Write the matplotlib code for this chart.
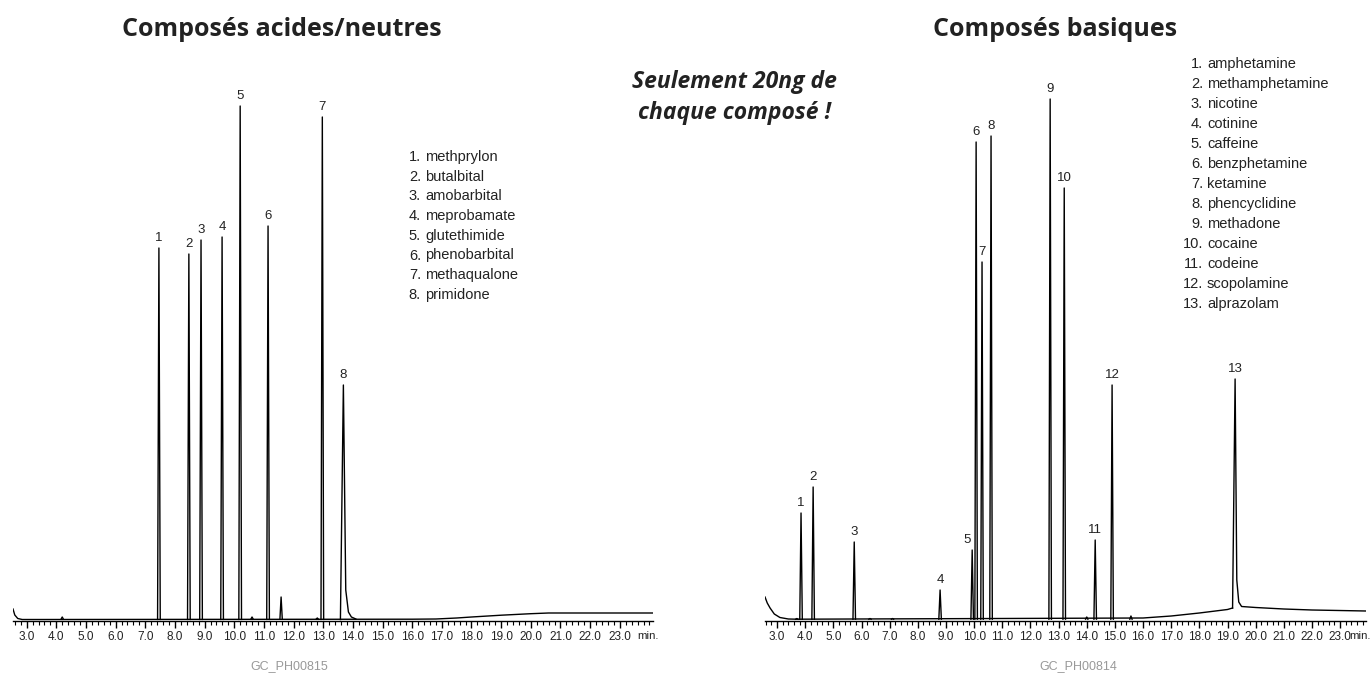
import matplotlib
matplotlib.use("Agg")
import matplotlib.pyplot as plt
from matplotlib.ticker import MultipleLocator, FixedLocator, FixedFormatter

W, H = 1372, 677
NARROW = ['Liberation Sans', 'DejaVu Sans']
BOLD = ['Open Sans', 'DejaVu Sans']

# ---- acid/neutral chromatogram (left) ----
acid_names = ['methprylon', 'butalbital', 'amobarbital', 'meprobamate',
              'glutethimide', 'phenobarbital', 'methaqualone', 'primidone']
acid_rt = [7.46, 8.47, 8.88, 9.59, 10.20, 11.14, 12.97, 13.68]
acid_height = [372, 366, 380, 383, 514, 394, 503, 235]
# small unlabelled peaks
acid_minor_rt = [4.2, 10.6, 11.58, 12.8]
acid_minor_h = [3, 3, 23, 2]
# baseline (time, signal)
acid_base_t = [2.54, 2.60, 2.70, 2.85, 3.5, 16.0, 16.8, 17.5, 18.0, 19.0, 20.0, 20.6, 24.12]
acid_base_y = [11, 5, 1.5, 0.5, 0.5, 0.8, 1.0, 2.0, 3.0, 4.8, 6.3, 7.0, 7.0]
# tailing peak 8 (time, signal)
acid_tail_t = [13.58, 13.68, 13.76, 13.85, 13.95, 14.1]
acid_tail_y = [0.5, 235, 30, 8, 3, 1]

# ---- basic chromatogram (right) ----
base_names = ['amphetamine', 'methamphetamine', 'nicotine', 'cotinine', 'caffeine',
              'benzphetamine', 'ketamine', 'phencyclidine', 'methadone', 'cocaine',
              'codeine', 'scopolamine', 'alprazolam']
base_rt = [3.85, 4.28, 5.74, 8.79, 9.93, 10.07, 10.28, 10.60, 12.70, 13.20, 14.30, 14.90, 19.27]
base_height = [107, 133, 78, 30, 70, 478, 358, 484, 521, 432, 80, 235, 241]
base_minor_rt = [3.7, 6.3, 7.1, 14.0, 15.57]
base_minor_h = [1.5, 1.5, 1.5, 3, 4]
base_base_t = [2.57, 2.65, 2.75, 2.90, 3.10, 3.40, 3.70, 16.0, 17.0, 18.0, 19.0, 19.18]
base_base_y = [23, 17, 12, 6, 2.5, 1.0, 0.8, 2.0, 4.0, 7.0, 10.5, 12.0]
base_tail_t = [19.18, 19.27, 19.33, 19.40, 19.50, 20.0, 21.0, 22.0, 23.92]
base_tail_y = [12, 241, 40, 18, 13.5, 12.5, 11.0, 10.0, 9.0]

fig = plt.figure(figsize=(W / 100, H / 100), dpi=100)


def setup(ax, xlim, min_x, min_ha):
    ax.set_xlim(*xlim)
    ax.set_ylim(-1, 540)
    for s in ['top', 'left', 'right']:
        ax.spines[s].set_visible(False)
    ax.spines['bottom'].set_linewidth(1.0)
    ax.set_yticks([])
    majors = [float(v) for v in range(3, 24)]
    ax.xaxis.set_major_locator(FixedLocator(majors))
    ax.xaxis.set_major_formatter(FixedFormatter(['%.1f' % v for v in majors]))
    ax.xaxis.set_minor_locator(MultipleLocator(0.2))
    ax.tick_params(axis='x', which='major', direction='out', length=5, width=1.0,
                   pad=2, labelsize=8.5, labelcolor='#222222')
    ax.tick_params(axis='x', which='minor', direction='out', length=3, width=0.8)
    for lab in ax.get_xticklabels():
        lab.set_family(NARROW)
    ax.text(min_x, -0.027, 'min.', transform=ax.get_xaxis_transform(),
            ha=min_ha, va='center', fontsize=8.2, color='#222222', family=NARROW)
    ax.patch.set_visible(False)


def draw(ax, rt, hts, mrt, mh, bt, by, tt, ty, tail_idx, base_levels, label_dx):
    ax.plot(bt, by, color='black', lw=1.0)
    ax.plot(tt, ty, color='black', lw=1.0)
    for i, (r, h) in enumerate(zip(rt, hts)):
        b = base_levels[i]
        if i != tail_idx:
            ax.plot([r - 0.045, r, r + 0.045], [b, h, b], color='black', lw=1.0)
        ax.annotate(str(i + 1), (r, h), xytext=(label_dx.get(i, 0), 3),
                    textcoords='offset points', ha='center', va='bottom',
                    fontsize=9.5, color='#222222', family=NARROW)
    for r, h in zip(mrt, mh):
        ax.plot([r - 0.04, r, r + 0.04], [0.8, h, 0.8], color='black', lw=1.0)


axL = fig.add_axes([13 / W, 1 - 621 / H, 640 / W, 541 / H])
setup(axL, (2.54, 24.12), 23.95, 'center')
draw(axL, acid_rt, acid_height, acid_minor_rt, acid_minor_h,
     acid_base_t, acid_base_y, acid_tail_t, acid_tail_y, 7,
     [0.6] * 8, {})

axR = fig.add_axes([765 / W, 1 - 621 / H, 601 / W, 541 / H])
setup(axR, (2.57, 23.92), 24.10, 'right')
draw(axR, base_rt, base_height, base_minor_rt, base_minor_h,
     base_base_t, base_base_y, base_tail_t, base_tail_y, 12,
     [0.8] * 13, {4: -3.5})

# titles
fig.text(282 / W, 1 - 30 / H, 'Composés acides/neutres', ha='center', va='center',
         fontsize=18, fontweight='bold', color='#222222', family=BOLD)
fig.text(1055 / W, 1 - 30 / H, 'Composés basiques', ha='center', va='center',
         fontsize=18, fontweight='bold', color='#222222', family=BOLD)
fig.text(734 / W, 1 - 82 / H, 'Seulement 20ng de', ha='center', va='center',
         fontsize=16.5, fontweight='bold', style='italic', color='#222222', family=BOLD)
fig.text(734 / W, 1 - 113 / H, 'chaque composé !', ha='center', va='center',
         fontsize=16.5, fontweight='bold', style='italic', color='#222222', family=BOLD)

# compound lists
for i, name in enumerate(acid_names):
    y = 1 - (157 + i * 19.7) / H
    fig.text(421 / W, y, '%d.' % (i + 1), ha='right', va='center', fontsize=10.5,
             color='#222222', family=NARROW)
    fig.text(425 / W, y, name, ha='left', va='center', fontsize=10.5,
             color='#222222', family=NARROW)
for i, name in enumerate(base_names):
    y = 1 - (64 + i * 20.0) / H
    fig.text(1203 / W, y, '%d.' % (i + 1), ha='right', va='center', fontsize=10.5,
             color='#222222', family=NARROW)
    fig.text(1207 / W, y, name, ha='left', va='center', fontsize=10.5,
             color='#222222', family=NARROW)

fig.text(289 / W, 1 - 666 / H, 'GC_PH00815', ha='center', va='center',
         fontsize=9, color='#999999', family=NARROW)
fig.text(1078 / W, 1 - 666 / H, 'GC_PH00814', ha='center', va='center',
         fontsize=9, color='#999999', family=NARROW)

fig.savefig('out.png', dpi=100)
